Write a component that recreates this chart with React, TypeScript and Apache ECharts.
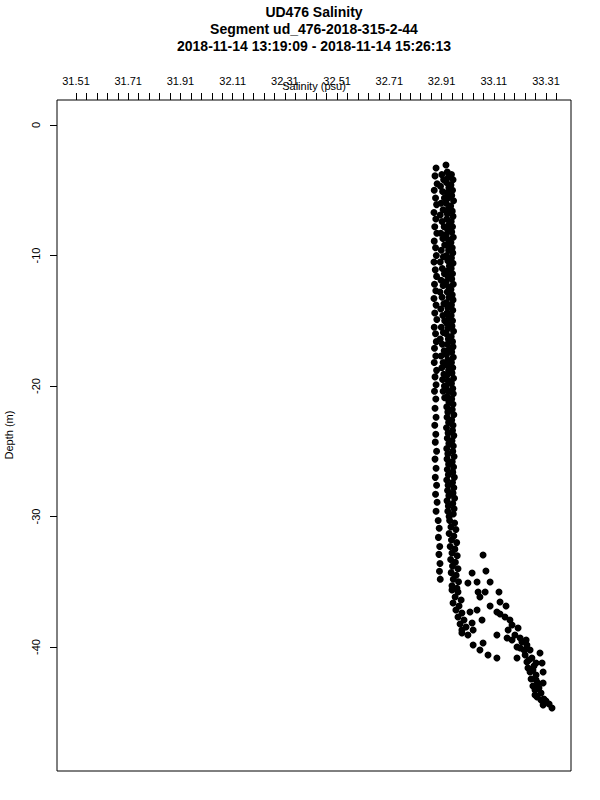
import React, { useEffect, useRef } from "react";
import * as echarts from "echarts";

const titleLines = [
  "UD476 Salinity",
  "Segment ud_476-2018-315-2-44",
  "2018-11-14 13:19:09 - 2018-11-14 15:26:13",
];
const xAxisTitle = "Salinity (psu)";
const yAxisTitle = "Depth (m)";

const salinityTickLabels = [31.51, 31.71, 31.91, 32.11, 32.31, 32.51, 32.71, 32.91, 33.11, 33.31];
const salinityTickMarks = [
  31.51, 31.55, 31.59, 31.63, 31.67, 31.71, 31.75, 31.79, 31.83, 31.87,
  31.91, 31.95, 31.99, 32.03, 32.07, 32.11, 32.15, 32.19, 32.23, 32.27,
  32.31, 32.35, 32.39, 32.43, 32.47, 32.51, 32.55, 32.59, 32.63, 32.67,
  32.71, 32.75, 32.79, 32.83, 32.87, 32.91, 32.95, 32.99, 33.03, 33.07,
  33.11, 33.15, 33.19, 33.23, 33.27, 33.31, 33.35,
];
const depthTickLabels = [0, -10, -20, -30, -40];

// [salinity (psu), depth (m)]
const topPoint = [[32.927, -3.07]];

const nearSurfaceLeft = [
  [32.889, -3.3], [32.885, -3.9], [32.893, -4.5], [32.882, -5.0], [32.887, -5.6], [32.891, -6.1],
  [32.881, -6.7], [32.888, -7.2], [32.884, -7.8], [32.892, -8.3], [32.882, -8.9], [32.887, -9.4],
  [32.890, -10.0], [32.881, -10.5], [32.886, -11.1], [32.891, -11.6], [32.883, -12.2], [32.888, -12.7],
  [32.881, -13.3], [32.889, -13.8], [32.884, -14.4], [32.892, -14.9], [32.882, -15.5], [32.887, -16.0],
  [32.890, -16.6], [32.883, -17.1], [32.888, -17.7], [32.882, -18.2], [32.891, -18.8], [32.885, -19.3],
  [32.889, -19.9], [32.883, -20.4], [32.888, -21.0],
];

const deepLeft = [
  [32.885, -21.7], [32.889, -22.4], [32.884, -23.0], [32.888, -23.7], [32.886, -24.3], [32.891, -25.0],
  [32.885, -25.6], [32.889, -26.3], [32.886, -27.0], [32.891, -27.6], [32.887, -28.3], [32.893, -28.9],
  [32.889, -29.6], [32.897, -30.3], [32.901, -30.9], [32.898, -31.6], [32.903, -32.3], [32.900, -32.9],
  [32.904, -33.6], [32.902, -34.2], [32.905, -34.8],
];

const middleColumn = [
  [32.911, -3.8], [32.918, -4.2], [32.906, -4.7], [32.914, -5.1], [32.921, -5.6], [32.908, -6.0],
  [32.916, -6.5], [32.905, -6.9], [32.912, -7.4], [32.920, -7.8], [32.907, -8.3], [32.915, -8.7],
  [32.922, -9.2], [32.909, -9.6], [32.917, -10.1], [32.905, -10.5], [32.913, -11.0], [32.921, -11.4],
  [32.908, -11.9], [32.916, -12.3], [32.904, -12.8], [32.912, -13.2], [32.919, -13.7], [32.907, -14.1],
  [32.915, -14.6], [32.922, -15.0], [32.909, -15.5], [32.917, -15.9], [32.905, -16.4], [32.913, -16.8],
  [32.920, -17.3], [32.908, -17.7], [32.916, -18.2], [32.911, -18.6], [32.919, -19.1], [32.914, -19.5],
  [32.921, -20.0], [32.916, -20.4], [32.922, -20.9],
];

const rightColumnA = [
  [32.932, -3.6], [32.936, -4.0], [32.929, -4.4], [32.938, -4.8], [32.931, -5.2], [32.935, -5.6],
  [32.928, -6.0], [32.937, -6.4], [32.932, -6.8], [32.930, -7.2], [32.939, -7.6], [32.933, -8.0],
  [32.928, -8.4], [32.936, -8.8], [32.931, -9.2], [32.937, -9.6], [32.929, -10.0], [32.934, -10.4],
  [32.940, -10.8], [32.930, -11.2], [32.935, -11.6], [32.928, -12.0], [32.937, -12.4], [32.932, -12.8],
  [32.939, -13.2], [32.929, -13.6], [32.934, -14.0], [32.931, -14.4], [32.938, -14.8], [32.930, -15.2],
  [32.935, -15.6], [32.928, -16.0], [32.936, -16.4], [32.932, -16.8], [32.939, -17.2], [32.929, -17.6],
  [32.934, -18.0], [32.931, -18.4], [32.937, -18.8], [32.930, -19.2], [32.935, -19.6], [32.928, -20.0],
  [32.936, -20.4], [32.932, -20.8], [32.938, -21.2], [32.930, -21.6], [32.934, -22.0], [32.931, -22.4],
  [32.937, -22.8], [32.929, -23.2], [32.935, -23.6], [32.932, -24.0], [32.938, -24.4], [32.930, -24.8],
  [32.934, -25.2], [32.931, -25.6], [32.937, -26.0], [32.932, -26.4], [32.936, -26.8], [32.930, -27.2],
  [32.935, -27.6], [32.933, -28.0], [32.938, -28.4], [32.931, -28.8], [32.936, -29.2], [32.934, -29.6],
  [32.939, -30.0],
];

const rightColumnB = [
  [32.948, -3.8], [32.954, -4.2], [32.946, -4.6], [32.952, -5.0], [32.949, -5.4], [32.956, -5.8],
  [32.945, -6.2], [32.951, -6.6], [32.954, -7.0], [32.947, -7.4], [32.952, -7.8], [32.949, -8.2],
  [32.955, -8.6], [32.946, -9.0], [32.951, -9.4], [32.953, -9.8], [32.948, -10.2], [32.954, -10.6],
  [32.947, -11.0], [32.952, -11.4], [32.949, -11.8], [32.955, -12.2], [32.946, -12.6], [32.951, -13.0],
  [32.954, -13.4], [32.948, -13.8], [32.953, -14.2], [32.947, -14.6], [32.952, -15.0], [32.950, -15.4],
  [32.956, -15.8], [32.947, -16.2], [32.952, -16.6], [32.954, -17.0], [32.949, -17.4], [32.955, -17.8],
  [32.948, -18.2], [32.953, -18.6], [32.950, -19.0], [32.956, -19.4], [32.948, -19.8], [32.953, -20.2],
  [32.955, -20.6], [32.949, -21.0], [32.954, -21.4], [32.951, -21.8], [32.957, -22.2], [32.949, -22.6],
  [32.954, -23.0], [32.952, -23.4], [32.957, -23.8], [32.950, -24.2], [32.955, -24.6], [32.953, -25.0],
  [32.958, -25.4], [32.951, -25.8], [32.956, -26.2], [32.953, -26.6], [32.959, -27.0], [32.952, -27.4],
  [32.957, -27.8], [32.954, -28.2], [32.960, -28.6], [32.953, -29.0], [32.958, -29.4], [32.955, -29.8],
];

const lowerColumn = [
  [32.941, -30.3], [32.960, -30.5], [32.946, -30.8], [32.965, -31.0], [32.939, -31.3], [32.957, -31.5],
  [32.948, -31.8], [32.968, -32.0], [32.943, -32.3], [32.961, -32.5], [32.950, -32.8], [32.970, -33.0],
  [32.945, -33.3], [32.963, -33.5], [32.952, -33.8], [32.973, -34.0], [32.947, -34.3], [32.966, -34.5],
  [32.955, -34.8], [32.975, -35.0], [32.950, -35.3], [32.969, -35.5],
];

const bottomColumn = [
  [32.950, -35.63], [32.973, -35.79], [32.962, -36.17], [32.985, -36.40], [32.954, -36.63],
  [32.977, -36.86], [32.965, -37.16], [32.988, -37.39], [32.973, -37.70], [32.996, -37.93],
  [32.981, -38.24], [33.004, -38.47], [32.988, -38.70],
];

const scatterBranch = [
  [33.069, -32.95], [33.080, -34.18], [33.027, -34.33], [33.096, -35.02], [33.046, -35.02],
  [33.011, -35.10], [33.050, -35.79], [33.077, -35.79], [33.130, -35.79], [33.057, -36.17],
  [33.096, -36.86], [33.019, -37.32], [33.046, -37.16], [33.065, -37.93], [33.122, -37.32],
  [33.027, -38.16], [32.988, -38.93], [33.011, -39.08], [33.031, -38.70], [33.122, -39.08],
  [33.031, -39.85], [33.069, -39.69], [33.057, -40.23], [33.088, -40.61], [33.122, -40.84],
  [33.199, -40.84],
];

const deepGradient = [
  [33.134, -36.55], [33.157, -36.86], [33.134, -37.47], [33.153, -37.70], [33.172, -37.93],
  [33.180, -38.31], [33.203, -38.54], [33.165, -38.70], [33.191, -39.08], [33.211, -39.31],
  [33.180, -39.46], [33.161, -39.31], [33.218, -39.62], [33.237, -39.85], [33.199, -40.00],
  [33.211, -40.08], [33.249, -40.23], [33.230, -40.61], [33.256, -40.84], [33.237, -41.15],
  [33.264, -41.46], [33.241, -41.61], [33.249, -41.92], [33.272, -42.15], [33.253, -42.45],
  [33.279, -42.76], [33.260, -42.99], [33.268, -43.30], [33.291, -43.52], [33.276, -43.83],
  [33.302, -43.98], [33.310, -44.14], [33.322, -44.37], [33.333, -44.67], [33.299, -44.44],
  [33.287, -40.46], [33.295, -41.23], [33.299, -41.92], [33.299, -42.76], [33.268, -43.68],
  [33.226, -40.23], [33.245, -41.00], [33.260, -41.76], [33.272, -42.53], [33.283, -43.14],
  [33.291, -44.06], [33.272, -41.23], [33.234, -39.46],
];

const FONT = "'Liberation Sans', Arial, Helvetica, sans-serif";

export default function App() {
  const ref = useRef<HTMLDivElement | null>(null);

  useEffect(() => {
    document.body.style.margin = "0";
    if (!ref.current) return;
    const chart = echarts.init(ref.current, undefined, { renderer: "svg" });

    const points = [
      ...topPoint,
      ...nearSurfaceLeft,
      ...deepLeft,
      ...middleColumn,
      ...rightColumnA,
      ...rightColumnB,
      ...lowerColumn,
      ...bottomColumn,
      ...scatterBranch,
      ...deepGradient,
    ];

    chart.setOption({
      animation: false,
      backgroundColor: "#ffffff",
      textStyle: { fontFamily: FONT },
      grid: {
        left: 57,
        right: 29,
        top: 100,
        bottom: 29,
        show: true,
        borderColor: "#000",
        borderWidth: 1,
        backgroundColor: "transparent",
      },
      xAxis: {
        type: "value",
        position: "top",
        min: 31.4372,
        max: 33.4058,
        axisLine: { show: false, onZero: false },
        splitLine: { show: false },
        axisTick: {
          show: true,
          inside: false,
          length: 7,
          customValues: salinityTickMarks,
          lineStyle: { color: "#000", width: 1 },
        },
        axisLabel: {
          customValues: salinityTickLabels,
          formatter: (v: number) => v.toFixed(2),
          color: "#000",
          fontSize: 11,
          fontFamily: FONT,
          margin: 14,
        },
      },
      yAxis: {
        type: "value",
        min: -49.5,
        max: 1.916,
        axisLine: { show: false, onZero: false },
        splitLine: { show: false },
        axisTick: {
          show: true,
          length: 7,
          customValues: depthTickLabels,
          lineStyle: { color: "#000", width: 1 },
        },
        axisLabel: {
          customValues: depthTickLabels,
          rotate: 90,
          color: "#000",
          fontSize: 11,
          fontFamily: FONT,
          margin: 16,
        },
      },
      series: [
        {
          type: "scatter",
          data: points,
          symbol: "circle",
          symbolSize: 7,
          itemStyle: { color: "#000", opacity: 1 },
          silent: true,
        },
      ],
      graphic: [
        ...titleLines.map((t, i) => ({
          type: "text",
          x: 314,
          y: 12 + i * 17,
          style: {
            text: t,
            fill: "#000",
            fontSize: 14,
            fontWeight: "bold",
            fontFamily: FONT,
            align: "center",
            verticalAlign: "middle",
          },
        })),
        {
          type: "text",
          x: 314,
          y: 86,
          style: {
            text: xAxisTitle,
            fill: "#000",
            fontSize: 11,
            fontFamily: FONT,
            align: "center",
            verticalAlign: "middle",
          },
        },
        {
          type: "text",
          x: 9,
          y: 435,
          rotation: Math.PI / 2,
          style: {
            text: yAxisTitle,
            fill: "#000",
            fontSize: 11,
            fontFamily: FONT,
            align: "center",
            verticalAlign: "middle",
          },
        },
      ],
    });

    return () => {
      chart.dispose();
    };
  }, []);

  return <div ref={ref} style={{ width: 600, height: 800 }} />;
}
